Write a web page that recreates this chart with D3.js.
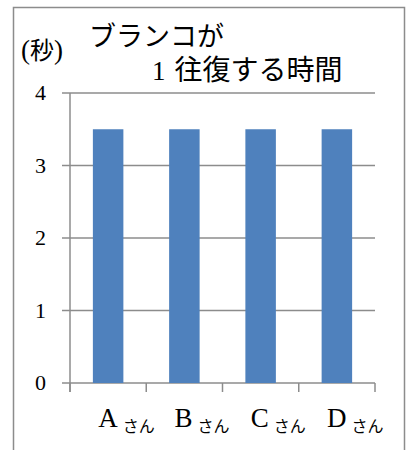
<!DOCTYPE html>
<html>
<head>
<meta charset="utf-8">
<script src="https://cdn.jsdelivr.net/npm/d3@7"></script>
<style>
  html, body { margin: 0; padding: 0; background: #fff; }
  svg { display: block; }
</style>
</head>
<body>
<svg id="chart" width="411" height="450"></svg>
<script>
// data
const people = ["A", "B", "C", "D"];
const suffix = "さん";
const seconds = [3.5, 3.5, 3.5, 3.5];
const yTicks = [0, 1, 2, 3, 4];

const GRID = "#8c8c8c";
const BAR = "#4f81bd";
const SERIF = "'Liberation Serif', 'DejaVu Serif', serif";
const JP = "'Noto Sans CJK JP', sans-serif";

var svg = d3.select("#chart");

// outer frame (bottom edge runs off the picture)
svg.append("path")
  .attr("d", "M13.5,452 V7.5 H404.5 V452")
  .attr("fill", "none")
  .attr("stroke", GRID)
  .attr("stroke-width", 1.5);

var x = d3.scaleBand()
  .domain(people)
  .range([70, 375])
  .paddingInner(0.6)
  .paddingOuter(0.3);

var y = d3.scaleLinear()
  .domain([0, 4])
  .range([383, 93]);

// horizontal gridlines + tick stubs on the left
svg.append("g")
  .selectAll("line")
  .data(yTicks)
  .enter()
  .append("line")
  .attr("x1", 62)
  .attr("x2", 375)
  .attr("y1", d => y(d))
  .attr("y2", d => y(d))
  .attr("stroke", GRID)
  .attr("stroke-width", 1.5);

// y axis line
svg.append("line")
  .attr("x1", 70).attr("x2", 70)
  .attr("y1", y(4)).attr("y2", y(0) + 9)
  .attr("stroke", GRID)
  .attr("stroke-width", 1.5);

// category ticks between bands
var step = x.step();
var bounds = d3.range(people.length + 1).map(i => x.range()[0] + i * step);
svg.append("g")
  .selectAll("line")
  .data(bounds)
  .enter()
  .append("line")
  .attr("x1", d => d).attr("x2", d => d)
  .attr("y1", y(0)).attr("y2", y(0) + 9)
  .attr("stroke", GRID)
  .attr("stroke-width", 1.5);

// bars
svg.append("g")
  .selectAll("rect")
  .data(seconds)
  .enter()
  .append("rect")
  .attr("x", (d, i) => x(people[i]))
  .attr("y", d => y(d))
  .attr("width", x.bandwidth())
  .attr("height", d => y(0) - y(d))
  .attr("fill", BAR);

// y tick labels
svg.append("g")
  .selectAll("text")
  .data(yTicks)
  .enter()
  .append("text")
  .attr("x", 46)
  .attr("y", d => y(d) + 7)
  .attr("text-anchor", "end")
  .attr("font-family", SERIF)
  .attr("font-size", 22)
  .attr("fill", "#000")
  .text(d => d);

// category labels: big latin letter + small さん
var cat = svg.append("g")
  .selectAll("text")
  .data(people)
  .enter()
  .append("text")
  .attr("x", d => x(d) + x.bandwidth() / 2 - 10)
  .attr("y", 427)
  .attr("fill", "#000");
cat.append("tspan")
  .attr("font-family", SERIF)
  .attr("font-size", 27)
  .text(d => d);
cat.append("tspan")
  .attr("dx", 5)
  .attr("dy", 5)
  .attr("font-family", JP)
  .attr("font-size", 16)
  .text(suffix);

// unit label
var unit = svg.append("text")
  .attr("x", 21)
  .attr("y", 59)
  .attr("fill", "#000");
unit.append("tspan").attr("font-family", SERIF).attr("font-size", 27).text("(");
unit.append("tspan").attr("font-family", JP).attr("font-size", 24).text("秒");
unit.append("tspan").attr("font-family", SERIF).attr("font-size", 27).text(")");

// title, two lines
svg.append("text")
  .attr("x", 89)
  .attr("y", 46)
  .attr("font-family", JP)
  .attr("font-size", 27)
  .attr("fill", "#000")
  .text("ブランコが");

var t2 = svg.append("text")
  .attr("x", 152)
  .attr("y", 80)
  .attr("fill", "#000");
t2.append("tspan").attr("font-family", SERIF).attr("font-size", 27).text("1");
t2.append("tspan").attr("dx", 9).attr("font-family", JP).attr("font-size", 28).text("往復する時間");
</script>
</body>
</html>
